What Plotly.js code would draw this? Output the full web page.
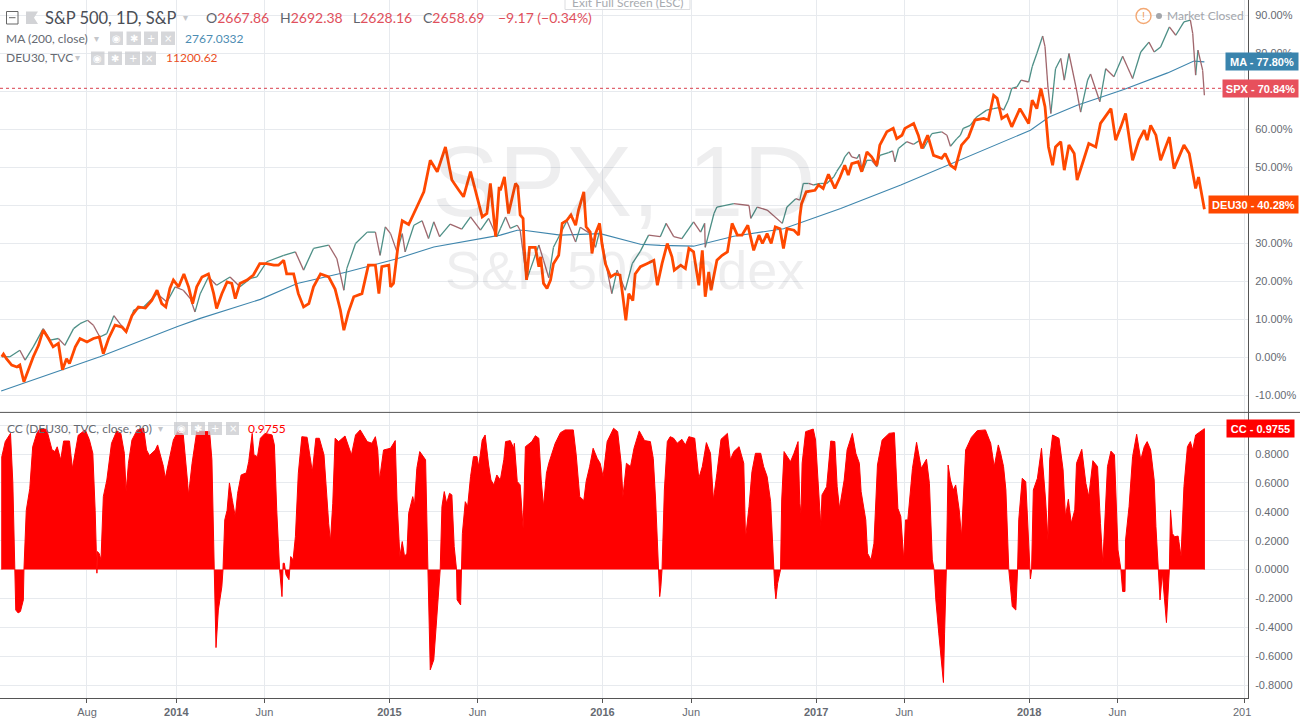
<!DOCTYPE html>
<html><head><meta charset="utf-8">
<script src="https://cdn.plot.ly/plotly-3.0.1.min.js"></script>
<style>html,body{margin:0;padding:0;background:#fff;overflow:hidden}#c{width:1300px;height:719px}</style>
</head><body><div id="c"></div>
<script>
// All time values are calendar days after 2013-03-05
const spxDay=[3,17,34,43,57,74,86,100,111,126,137,150,160,171,183,195,206,217,229,246,269,286,300,314,326,334,343,357,371,394,411,429,440,457,486,506,520,537,563,577,589,594,609,629,643,651,660,669,680,689,694,709,723,734,743,753,771,791,806,823,837,851,857,866,874,886,891,897,902,908,923,931,940,948,963,971,986,994,1011,1020,1028,1040,1048,1057,1071,1083,1097,1111,1131,1141,1154,1168,1188,1200,1207,1208,1223,1228,1257,1283,1286,1297,1314,1340,1348,1363,1370,1376,1385,1393,1405,1416,1428,1433,1442,1447,1454,1459,1468,1472,1477,1485,1493,1502,1507,1522,1529,1533,1539,1553,1565,1576,1582,1596,1613,1622,1628,1639,1645,1650,1662,1673,1690,1702,1713,1719,1727,1733,1742,1749,1762,1768,1776,1786,1790,1795,1800,1808,1817,1823,1831,1843,1851,1863,1868,1884,1894,1908,1923,1940,1954,1968,1977,1988,2003,2014,2028,2039,2043,2048,2052,2060,2063];
const spxPct=[0.2,0.2,1.9,-0.7,2.8,7.6,4.6,5,3.2,7.6,8.9,9.8,8.5,5.4,6.3,11,8.8,6.8,12.5,13.3,16.8,14.6,18.6,17.7,15.5,12,16.8,21.2,19,21.2,18.6,20.8,21.2,25.2,26.9,27.8,23,28.7,29.6,26,17.7,23.4,30,33,33,26.9,34.4,32.6,27.8,32.6,27.8,34.8,36,31.3,35.7,31.8,35.1,33.8,37,33.5,36.6,31.8,33.9,37,34,34.8,33.5,26.5,20.4,23,29.6,25.6,21,29,33.5,36,30.4,34.3,32.6,29,33.8,23,16.8,23,17.7,24.7,28,32.2,31.8,35.3,31.8,31.3,35.7,33,35.3,29,37.9,39.6,40.5,40,36.6,39.6,38.8,35.3,39.6,41.8,41.4,45.8,45.8,45.4,45.8,45.8,47.5,48.9,51,52.8,54.1,52.8,52.4,53.5,48.9,51.9,51.9,50.2,53.2,53.9,54.4,51.5,55,56.8,56.1,57.2,55,58.9,59.4,58.5,55.6,57.6,58.5,60.3,61.1,63.3,65.1,65.5,65.8,65.1,67.7,70.8,71.2,73,72.5,76.5,80,84.6,81.8,71.2,64.2,76,78.7,73,80,71.2,64.6,73,74.6,67.3,76,73.9,79.3,73.4,80.4,83,80.4,81.7,87,84.8,88.3,88.8,85.3,74.3,80.9,75.6,69];
const maDay=[2,109,171,303,343,446,509,594,629,680,743,857,886,897,960,1028,1097,1131,1188,1257,1342,1440,1543,1617,1714,1765,1797,1845,1925,2000,2045,2063];
const maPct=[-8.8,-3.2,0.2,8.1,10.3,15.3,19.5,22.5,23.9,26,29.1,32.2,33.5,33.5,32.2,32.6,29.8,29.5,29.3,31.9,33.9,39.2,45.4,50.2,56.5,59.8,63.3,66.4,70.5,74.9,78,77.8];
const deuDay=[3,6,11,20,29,34,41,49,57,66,74,83,91,100,107,114,119,129,137,149,160,170,177,186,197,209,216,226,237,249,260,269,277,284,291,297,306,315,323,330,337,346,357,366,371,380,389,397,403,411,423,434,445,457,469,477,486,491,503,511,520,529,537,549,563,574,583,589,597,606,620,631,643,649,654,666,669,674,683,689,700,714,726,737,749,763,774,786,794,806,817,826,834,840,849,855,857,864,871,883,887,891,896,898,902,907,917,923,926,931,937,943,948,957,963,971,978,986,991,1000,1004,1011,1014,1020,1027,1031,1037,1046,1054,1062,1067,1072,1077,1084,1088,1097,1108,1120,1126,1134,1143,1151,1155,1166,1174,1180,1188,1197,1203,1208,1214,1218,1228,1237,1246,1254,1263,1271,1281,1291,1300,1306,1314,1321,1328,1336,1342,1348,1360,1368,1370,1373,1381,1396,1402,1410,1419,1430,1439,1447,1453,1459,1470,1476,1485,1493,1502,1507,1519,1530,1536,1545,1550,1565,1573,1579,1589,1599,1613,1619,1628,1636,1647,1659,1670,1685,1693,1702,1708,1716,1725,1733,1747,1762,1768,1776,1783,1790,1796,1803,1808,1817,1823,1831,1840,1845,1854,1865,1877,1885,1903,1911,1920,1928,1940,1951,1960,1965,1971,1980,1988,2003,2011,2028,2037,2048,2053,2063];
const deuPct=[0.2,0.9,-0.3,-2,-2.5,-2,-6.4,-3,0.2,3.2,7.2,5,2.8,3.7,-3.2,-0.3,-1.6,2.8,5,4.1,5,5.4,1,5,8.5,8,6.8,11,13.3,13,15,17.7,14.2,13.3,18.2,20.4,18.6,22,18.6,14.2,18.6,21.2,22,16.8,12.9,16.8,19.9,19.5,15.5,19.5,20.4,21.7,24.7,24.7,24.3,24.3,25.6,22,22,16.8,13.3,14.2,18.6,22,21.2,18,12.5,7.2,12,16,16.8,24.3,24.3,16.8,23.9,24.3,18.6,19.5,30.9,36,35,39.6,43.6,51.9,48.9,55.4,46.7,44,42.3,48.9,42.3,37,37.9,45.8,31.8,44.9,44,47.5,37.9,45.8,45,37.5,36.6,29,20.4,29,29,23.9,26.5,19.5,18.2,20.4,24.7,26.9,35.3,36.1,37.5,34.8,38.8,43.6,34.4,33,27.4,32.6,35.3,30,24.7,21.2,22,21.7,16,9.8,16.8,15,22,23.9,24.7,25.6,19,24.7,30,26.5,23,24.3,23.4,28.7,27.8,19,28.2,16,22.5,17.7,25.6,26.9,27.8,35.3,32.2,32.2,34.8,28.2,32.2,30,32.6,30,34.4,33.9,28.7,33.9,33.5,32.2,37,40.5,43.6,44,45.4,44.5,48.2,44.5,47.5,50.6,48,51,51.5,48.9,54.1,52.8,50.6,55.9,59.4,60.3,57.6,58.5,60.3,61.6,58.5,55,58.5,53.2,52.4,53.7,50.6,49.7,55.9,58,62.5,62.9,62.5,69,68.2,62.9,63.8,60.7,65.5,61.6,67.7,65.5,70.8,66,55.4,50.6,55.4,56.8,49.3,55.9,53.7,46.7,51,56.3,55.4,61.6,65.5,57.2,60.7,64.2,51.9,57.2,59.8,57.2,61.1,58.5,51.9,58,49.7,55.9,53.7,44.5,47.5,39];
const ccDay=[3,3,9,14,18,22,25,27,31,35,40,41,45,51,56,63,69,80,89,94,98,104,109,119,124,129,134,146,153,159,163,166,167,170,173,177,183,191,200,207,213,216,220,226,235,246,251,256,266,270,280,283,289,297,306,314,321,323,329,337,359,363,367,370,374,380,382,385,389,393,398,403,407,413,422,426,432,435,441,446,454,466,470,474,479,483,485,487,490,495,498,502,506,511,517,526,535,541,547,555,563,566,570,574,580,591,602,609,617,629,637,643,647,650,657,669,677,680,685,689,693,697,700,707,710,714,719,729,733,737,743,751,754,757,761,765,770,774,778,782,783,789,791,792,797,801,806,811,817,820,826,831,837,841,846,851,857,863,866,874,880,881,886,891,896,900,911,917,923,927,931,936,940,951,960,968,982,987,993,1000,1004,1010,1016,1023,1028,1033,1040,1051,1058,1064,1067,1073,1080,1086,1095,1104,1114,1119,1123,1128,1130,1132,1134,1138,1143,1148,1154,1160,1168,1174,1180,1190,1197,1203,1210,1217,1222,1228,1235,1246,1251,1257,1266,1274,1277,1283,1288,1294,1303,1308,1314,1320,1324,1327,1329,1332,1337,1339,1343,1354,1360,1367,1370,1372,1374,1380,1393,1397,1406,1408,1416,1420,1423,1430,1434,1438,1446,1451,1460,1466,1472,1475,1483,1486,1492,1497,1503,1511,1523,1532,1538,1543,1548,1551,1555,1563,1570,1578,1587,1592,1597,1600,1603,1608,1616,1618,1621,1624,1628,1633,1637,1643,1647,1654,1664,1674,1688,1697,1703,1710,1714,1719,1723,1728,1730,1734,1740,1743,1745,1751,1757,1763,1765,1767,1770,1777,1784,1791,1795,1798,1803,1814,1821,1825,1830,1835,1841,1844,1853,1860,1865,1872,1880,1885,1889,1897,1903,1909,1915,1920,1923,1927,1928,1934,1940,1947,1954,1960,1965,1971,1977,1980,1984,1987,1991,1998,2003,2005,2008,2012,2018,2023,2028,2034,2039,2043,2048,2061,2063,2063];
const ccVal=[0,0.78,0.886,0.913,0.943,0.6,0,-0.28,-0.3,-0.29,-0.21,0,0.41,0.56,0.85,0.943,0.978,0.97,0.83,0.817,0.85,0.76,0.89,0.89,0.7,0.83,0.93,0.967,0.9,0.805,0.41,-0.025,0.125,0.11,0.067,0.505,0.62,0.874,0.96,0.943,0.805,0.54,0.736,0.897,0.967,0.978,0.828,0.79,0.828,0.863,0.713,0.632,0.736,0.897,0.967,0.932,0.62,0.517,0.736,0.955,0.955,0.76,0,-0.54,-0.28,-0.118,0,0.344,0.41,0.6,0.48,0.367,0.528,0.655,0.67,0.747,0.943,0.794,0.782,0.909,0.943,0.932,0.863,0.413,0,-0.187,0.044,0.044,-0.037,-0.07,0.09,0.067,0.228,0.667,0.92,0.916,0.678,0.909,0.909,0.794,0.32,0.194,0.459,0.909,0.886,0.925,0.794,0.932,0.967,0.886,0.875,0.92,0.828,0.62,0.828,0.84,0.893,0.482,0.09,0.194,0.09,0.113,0.39,0.505,0.447,0.701,0.817,0.76,0,-0.694,-0.625,-0.21,0,0.436,0.54,0.459,0.528,0.517,0.16,0,-0.21,-0.245,0,0.25,0.47,0.436,0.644,0.782,0.782,0.713,0.897,0.932,0.724,0.62,0.586,0.655,0.62,0.76,0.886,0.893,0.84,0.874,0.61,0.586,0.286,0.851,0.886,0.927,0.909,0.62,0.436,0.667,0.736,0.874,0.948,0.967,0.967,0.794,0.505,0.478,0.61,0.713,0.84,0.77,0.736,0.644,0.886,0.978,0.955,0.736,0.505,0.736,0.713,0.84,0.96,0.893,0.886,0.77,0.482,0.044,-0.187,-0.118,0,0.551,0.886,0.92,0.909,0.875,0.902,0.863,0.92,0.909,0.632,0.713,0.879,0.805,0.482,0.667,0.902,0.943,0.76,0.817,0.851,0.736,0.217,0.436,0.678,0.805,0.805,0.713,0.644,0.47,0.113,-0.118,-0.203,-0.095,0,0.482,0.817,0.747,0.805,0.886,0.459,0.39,0.736,0.955,0.973,0.897,0.298,0.517,0.574,0.76,0.89,0.886,0.574,0.424,0.62,0.828,0.943,0.805,0.736,0.54,0.344,0.113,0.067,0.182,0.724,0.897,0.943,0.948,0.424,0.367,0.067,0.344,0.344,0.701,0.881,0.701,0.764,0.597,0.067,0,-0.21,-0.44,-0.782,-0.44,0,0.724,0.62,0.551,0.586,0.413,0.228,0.828,0.916,0.962,0.967,0.874,0.713,0.863,0.805,0.713,0.551,0,-0.095,-0.256,-0.28,0,0.344,0.632,0.609,0.067,-0.065,0,0.551,0.632,0.84,0.482,0.205,0.76,0.932,0.909,0.69,0.367,0.487,0.32,0.413,0.736,0.833,0.597,0.505,0.754,0.713,0.32,0.044,0.713,0.82,0.794,0.136,0,-0.152,-0.152,0.205,0.436,0.782,0.937,0.76,0.851,0.886,0.828,0.62,0.298,0,-0.21,-0.025,-0.367,0,0.413,0.25,0.228,0.232,0.09,0.574,0.851,0.886,0.828,0.932,0.967,0.9755,0];
const xTickDates=["2013-08-01","2014-01-01","2014-06-01","2015-01-01","2015-06-01","2016-01-01","2016-06-01","2017-01-01","2017-06-01","2018-01-01","2018-06-01","2019-01-04"];
const xTickText=["Aug","<b>2014</b>","Jun","<b>2015</b>","Jun","<b>2016</b>","Jun","<b>2017</b>","Jun","<b>2018</b>","Jun"," "];
const pctTicks=[90,80,70,60,50,40,30,20,10,0,-10];
const pctText=["90.00%","80.00%"," ","60.00%","50.00%"," ","30.00%","20.00%","10.00%","0.00%","-10.00%"];
const ccTicks=[1,0.8,0.6,0.4,0.2,0,-0.2,-0.4,-0.6,-0.8];
const ccText=[" ","0.8000","0.6000","0.4000","0.2000","0.0000","-0.2000","-0.4000","-0.6000","-0.8000"];

const startMs=Date.UTC(2013,2,5);
const toDate=d=>new Date(startMs+d*864e5).toISOString().slice(0,10);
const W=1248,H=698;
const px=x=>x/W, py=y=>(H-y)/H;
const ARIAL='"Liberation Sans",Arial,sans-serif', UI='"Lato","Noto Sans",sans-serif';

// SPX candles read as thin two-coloured segments: rising and falling moves
const upX=[],upY=[],dnX=[],dnY=[];
for(let i=1;i<spxDay.length;i++){
  const tx=spxPct[i]>=spxPct[i-1]?upX:dnX, ty=spxPct[i]>=spxPct[i-1]?upY:dnY;
  tx.push(toDate(spxDay[i-1]),toDate(spxDay[i]),null);
  ty.push(spxPct[i-1],spxPct[i],null);
}
const traces=[
 {type:'scatter',mode:'lines',name:'MA (200, close)',x:maDay.map(toDate),y:maPct,xaxis:'x',yaxis:'y',line:{color:'#3f86ad',width:1.1}},
 {type:'scatter',mode:'lines',name:'SPX up',x:upX,y:upY,xaxis:'x',yaxis:'y',line:{color:'#4d8f86',width:1.3},connectgaps:false},
 {type:'scatter',mode:'lines',name:'SPX down',x:dnX,y:dnY,xaxis:'x',yaxis:'y',line:{color:'#a0666c',width:1.3},connectgaps:false},
 {type:'scatter',mode:'lines',name:'DEU30',x:deuDay.map(toDate),y:deuPct,xaxis:'x',yaxis:'y',line:{color:'#ff4800',width:2.8}},
 {type:'scatter',mode:'lines',name:'CC',x:ccDay.map(toDate),y:ccVal,xaxis:'x',yaxis:'y2',fill:'tozeroy',fillcolor:'#ff0000',line:{color:'#ff0000',width:1}}
];

const ann=[];
function T(x,y,text,o={}){ann.push(Object.assign({xref:'paper',yref:'paper',x:px(x),y:py(y),text,showarrow:false,xanchor:'left',yanchor:'middle',
  font:{family:UI,size:12,color:'#666a72'},borderpad:0},o));}
// watermarks
T(624,181,'SPX, 1D',{xanchor:'center',font:{family:ARIAL,size:100,color:'rgba(40,40,50,0.08)'}});
T(624,270,'S&amp;P 500 Index',{xanchor:'center',font:{family:ARIAL,size:54,color:'rgba(40,40,50,0.08)'}});
// top legend
T(44,18,'S&amp;P 500, 1D, S&amp;P',{font:{family:UI,size:16.5,color:'#4a4e56'}});
const R='#e0505c', G='#60646c';
[[204.5,'O','2667.86'],[279,'H','2692.38'],[352,'L','2628.16'],[422,'C','2658.69']].forEach(a=>{
  T(a[0],18,`<span style="fill:${G}">${a[1]}</span>${a[2]}`,{font:{family:UI,size:14,color:R}});
});
T(497,18,'−9.17 (−0.34%)',{font:{family:UI,size:14,color:R}});
T(5,38,'MA (200, close)'); T(184,38,'2767.0332',{font:{family:UI,size:12,color:'#4d8db3'}});
T(5,58,'DEU30, TVC'); T(165,58,'11200.62',{font:{family:UI,size:12,color:'#ea4f24'}});
T(6,428,'CC (DEU30, TVC, close, 20)'); T(247,428,'0.9755',{font:{family:UI,size:12,color:'#ff0000'}});
[[185,18],[96,38],[77,58],[160,428]].forEach(a=>T(a[0],a[1],'▾',{xanchor:'center',font:{family:'DejaVu Sans',size:10,color:'#c4c6ca'}}));
// market status & exit banner
T(1143.3,16,'!',{xanchor:'center',font:{family:ARIAL,size:11,color:'#f0a060'}});
T(1166,16,'Market Closed',{font:{family:UI,size:12,color:'#a3a6ab'}});
T(571,3,'Exit Full Screen (ESC)',{font:{family:UI,size:12,color:'#a8abb0'}});
// value labels at the price scale
function L(pane,val,w,xl,name,value,bg){
  ann.push({xref:'paper',yref:pane,x:px(xl),y:val,xanchor:'left',yanchor:'middle',showarrow:false,width:w,height:15,align:'center',bgcolor:bg,borderpad:1,
    text:`<b>${name} - ${value}</b>`,font:{family:ARIAL,size:11,color:'#fff'}});
}
L('y',77.8,70,1225,'MA','77.80%','#3a84ad');
L('y',70.84,73,1222,'SPX','70.84%','#e7505c');
L('y',40.28,87,1208,'DEU30','40.28%','#ff4800');
L('y2',0.9755,65,1226,'CC','0.9755','#ff0000');
T(1232,712,'201',{font:{family:ARIAL,size:11,color:'#666a72'}});

const shapes=[
 {type:'line',xref:'paper',yref:'paper',x0:0,x1:1300/W,y0:py(412.4),y1:py(412.4),line:{color:'#555',width:1}},
 {type:'line',xref:'paper',yref:'y',x0:0,x1:1,y0:70.84,y1:70.84,line:{color:'#d9404e',width:1,dash:'dot'}},
 {type:'rect',xref:'paper',yref:'paper',x0:px(6.5),x1:px(18),y0:py(11.5),y1:py(24),line:{color:'#666',width:1},fillcolor:'rgba(0,0,0,0)'},
 {type:'line',xref:'paper',yref:'paper',x0:px(9),x1:px(15.5),y0:py(17.7),y1:py(17.7),line:{color:'#666',width:1}},
 {type:'path',xref:'paper',yref:'paper',path:`M ${px(26)} ${py(11.5)} L ${px(38)} ${py(11.5)} L ${px(34)} ${py(17.7)} L ${px(38)} ${py(24)} L ${px(26)} ${py(24)} Z`,line:{width:0},fillcolor:'#d2d3d6'},
 {type:'circle',xref:'paper',yref:'paper',x0:px(1136),x1:px(1151),y0:py(8.5),y1:py(23.5),line:{color:'#f3a873',width:1.4},fillcolor:'rgba(0,0,0,0)'},
 {type:'circle',xref:'paper',yref:'paper',x0:px(1156),x1:px(1162),y0:py(13),y1:py(19),line:{width:0},fillcolor:'#a3a6ab'},
 {type:'rect',xref:'paper',yref:'paper',x0:px(565),x1:px(690),y0:py(-3),y1:py(9.5),line:{color:'#dcdde0',width:1},fillcolor:'rgba(255,255,255,0.8)'}
];
// legend control buttons
[[[110,123],[126.5,141],[144,158],[161,175]].map(b=>[b,31.5,45]),
 [[91,104.5],[108,122],[125,140],[142,156]].map(b=>[b,51.5,65]),
 [[174,188],[191,205],[208,222],[226,239]].map(b=>[b,422,435])].forEach(row=>{
  const glyph=['◉','✱','+','×'];
  row.forEach((b,i)=>{
    shapes.push({type:'rect',xref:'paper',yref:'paper',x0:px(b[0][0]),x1:px(b[0][1]),y0:py(b[1]),y1:py(b[2]),line:{width:0},fillcolor:'rgba(200,201,205,0.75)'});
    T((b[0][0]+b[0][1])/2,(b[1]+b[2])/2,glyph[i],{xanchor:'center',font:{family:'DejaVu Sans',size:10,color:'#fff'}});
  });
});

const GRID='#e7eaee', TICK='#666a72';
const yCommon={side:'right',showgrid:true,gridcolor:GRID,gridwidth:1,zeroline:false,showline:true,linecolor:'#555',linewidth:1,ticks:'outside',ticklen:4,tickcolor:'#fff',
  tickfont:{family:ARIAL,size:11,color:TICK},tickmode:'array',fixedrange:true};
const layout={width:1300,height:719,margin:{l:0,r:52,t:0,b:21,pad:0},paper_bgcolor:'#fff',plot_bgcolor:'#fff',showlegend:false,hovermode:false,
 xaxis:{type:'date',domain:[0,1],anchor:'y2',range:[toDate(0),'2019-01-10 17:00'],tickmode:'array',tickvals:xTickDates,ticktext:xTickText,showgrid:true,gridcolor:GRID,gridwidth:1,
   showline:true,linecolor:'#555',linewidth:1,ticks:'outside',ticklen:4,tickcolor:'#555',tickfont:{family:ARIAL,size:11,color:TICK},zeroline:false,fixedrange:true},
 yaxis:Object.assign({},yCommon,{domain:[(H-412)/H,1],anchor:'x',range:[-14.34,94.08],tickvals:pctTicks,ticktext:pctText}),
 yaxis2:Object.assign({},yCommon,{domain:[0,(H-412)/H],anchor:'x',range:[-0.889,1.091],tickvals:ccTicks,ticktext:ccText}),
 shapes,annotations:ann};
Plotly.newPlot('c',traces,layout,{displayModeBar:false,staticPlot:true});
</script></body></html>
